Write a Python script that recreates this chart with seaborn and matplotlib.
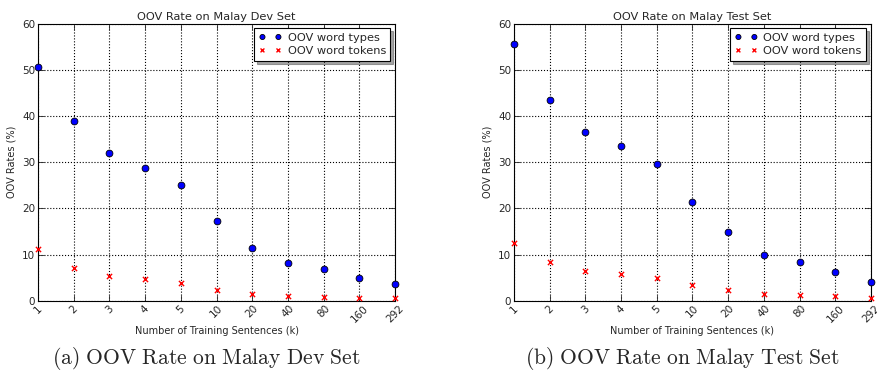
import matplotlib
matplotlib.use('Agg')
import matplotlib.pyplot as plt
import numpy as np
import pandas as pd
import seaborn as sns

# training sizes (k sentences)
sizes = ['1', '2', '3', '4', '5', '10', '20', '40', '80', '160', '292']

dev_types = [50.7, 38.9, 32.0, 28.8, 25.1, 17.3, 11.5, 8.2, 6.8, 4.8, 3.6]
dev_tokens = [11.2, 7.0, 5.3, 4.6, 3.8, 2.3, 1.45, 1.0, 0.85, 0.65, 0.5]

test_types = [55.7, 43.5, 36.5, 33.6, 29.6, 21.3, 14.9, 9.9, 8.4, 6.2, 4.0]
test_tokens = [12.5, 8.3, 6.4, 5.7, 4.8, 3.3, 2.2, 1.45, 1.15, 0.95, 0.55]

titles = ['OOV Rate on Malay Dev Set', 'OOV Rate on Malay Test Set']
captions = [r'$\mathrm{(a)\ OOV\ Rate\ on\ Malay\ Dev\ Set}$',
            r'$\mathrm{(b)\ OOV\ Rate\ on\ Malay\ Test\ Set}$']

sns.set_style('ticks')
plt.rcParams['font.family'] = ['DejaVu Sans']
plt.rcParams['mathtext.fontset'] = 'cm'

fig = plt.figure(figsize=(8.78, 3.73), dpi=100)
ax_dev = fig.add_axes([0.0433, 0.194, 0.4066, 0.742])
ax_test = fig.add_axes([0.5854, 0.194, 0.4066, 0.742])


def draw(ax, types, tokens, title):
    df = pd.DataFrame({'pos': np.arange(len(sizes)), 'types': types, 'tokens': tokens})
    sns.scatterplot(x='pos', y='types', data=df, ax=ax, color='#0000ff', edgecolor='black',
                    linewidth=0.6, s=24, marker='o', label='OOV word types', zorder=3, clip_on=False)
    sns.scatterplot(x='pos', y='tokens', data=df, ax=ax, color='#ff0000', linewidth=1.0,
                    s=14, marker='x', label='OOV word tokens', zorder=3, clip_on=False)
    ax.set_xlim(0, len(sizes) - 1)
    ax.set_ylim(0, 60)
    ax.set_xticks(np.arange(len(sizes)))
    ax.set_xticklabels(sizes, rotation=45, fontsize=7.5)
    ax.set_yticks(range(0, 61, 10))
    ax.tick_params(axis='y', labelsize=7.5)
    ax.tick_params(direction='in', top=True, right=True, length=4, width=0.6, pad=2)
    ax.grid(True, linestyle=':', color='black', linewidth=0.8)
    for sp in ax.spines.values():
        sp.set_visible(True)
        sp.set_linewidth(0.8)
        sp.set_color('black')
    ax.set_title(title, fontsize=8.2, pad=3)
    ax.set_xlabel('Number of Training Sentences (k)', fontsize=7, labelpad=1)
    ax.set_ylabel('OOV Rates (%)', fontsize=7)
    leg = ax.legend(loc='upper right', scatterpoints=2, scatteryoffsets=[0.5], shadow=True,
                    fancybox=False, frameon=True, fontsize=8.2, borderpad=0.4, labelspacing=0.3,
                    handletextpad=0.5, borderaxespad=0.4, markerscale=0.75)
    leg.get_frame().set_edgecolor('black')
    leg.get_frame().set_linewidth(0.8)
    leg.get_frame().set_alpha(1)


draw(ax_dev, dev_types, dev_tokens, titles[0])
draw(ax_test, test_types, test_tokens, titles[1])

fig.text(0.235, 0.024, captions[0], ha='center', va='baseline', fontsize=15.5)
fig.text(0.777, 0.024, captions[1], ha='center', va='baseline', fontsize=15.5)

fig.savefig('out.png', dpi=100)
